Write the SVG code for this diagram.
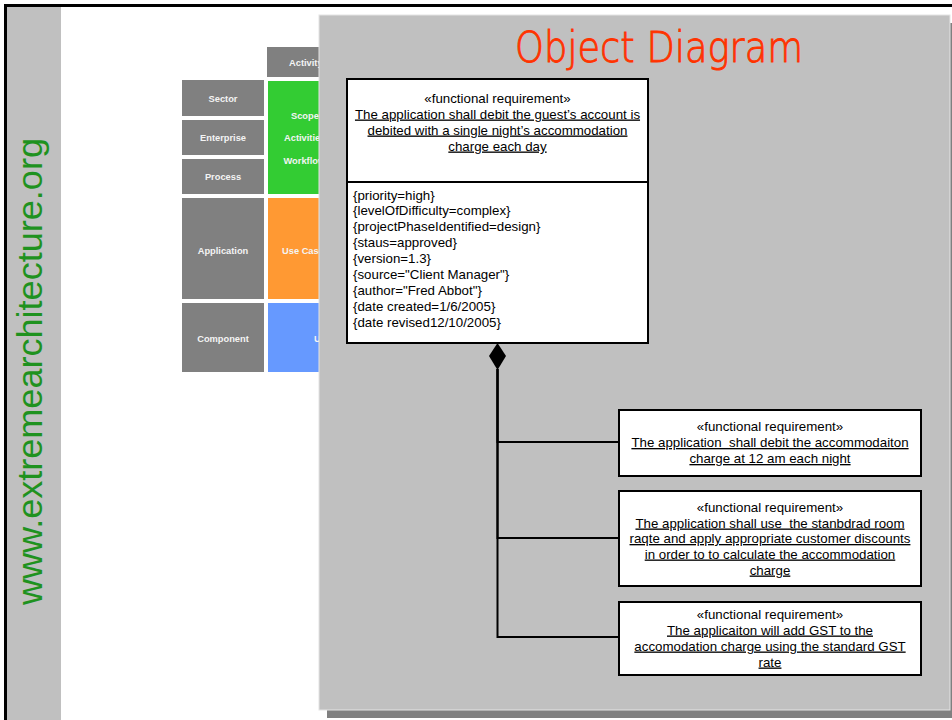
<svg xmlns="http://www.w3.org/2000/svg" width="952" height="720" viewBox="0 0 952 720">
<style>
.cell{fill:#808080}
.ct{font-family:"Liberation Sans",Arial,sans-serif;font-size:9.3px;font-weight:bold;fill:#f4f4f4}
.box{fill:#ffffff;stroke:#000000;stroke-width:2}
.t{font-family:"Liberation Sans",Arial,sans-serif;font-size:13.3px;fill:#000000;white-space:pre}
.c{text-anchor:middle}
.u{text-decoration:underline}
.conn{fill:none;stroke:#000000;stroke-width:2}
</style>
<rect x="0" y="0" width="952" height="720" fill="#ffffff"/>
<rect x="7" y="7" width="54" height="713" fill="#c0c0c0"/>
<line x1="5" y1="5.5" x2="952" y2="5.5" stroke="#000" stroke-width="3"/>
<line x1="5.5" y1="4" x2="5.5" y2="720" stroke="#000" stroke-width="3"/>
<text transform="translate(42,605) rotate(-90)" font-family="'Liberation Sans',Arial,sans-serif" font-size="35" fill="#1f921f" textLength="467" lengthAdjust="spacingAndGlyphs">www.extremearchitecture.org</text>

<g id="framework-table">
<rect class="cell" x="267" y="47" width="90" height="30"/>
<text class="ct" x="289" y="65.5">Activity</text>
<rect class="cell" x="182" y="80" width="82" height="36"/>
<text class="ct" x="223" y="102" text-anchor="middle">Sector</text>
<rect class="cell" x="182" y="120" width="82" height="35"/>
<text class="ct" x="223" y="141" text-anchor="middle">Enterprise</text>
<rect class="cell" x="182" y="159" width="82" height="35"/>
<text class="ct" x="223" y="180" text-anchor="middle">Process</text>
<rect class="cell" x="182" y="198" width="82" height="101"/>
<text class="ct" x="223" y="253.5" text-anchor="middle">Application</text>
<rect class="cell" x="182" y="303" width="82" height="69"/>
<text class="ct" x="223" y="341.5" text-anchor="middle">Component</text>
<rect x="268" y="81" width="90" height="113" fill="#33cc33"/>
<text class="ct" x="291" y="119">Scope</text>
<text class="ct" x="284" y="140.5">Activities</text>
<text class="ct" x="283.5" y="163.5">Workflow</text>
<rect x="268" y="198" width="90" height="101" fill="#ff9933"/>
<text class="ct" x="282" y="253.5">Use Case</text>
<rect x="268" y="303" width="90" height="69" fill="#6699ff"/>
<text class="ct" x="314" y="341.5">U</text>
</g>

<g id="panel">
<rect x="327" y="23" width="630" height="695" fill="#808080"/>
<rect x="319" y="15" width="631" height="695" fill="#c0c0c0" stroke="#e4e4e4" stroke-width="1"/>
<text x="659" y="62" text-anchor="middle" font-family="'DejaVu Sans','Liberation Sans',Arial,sans-serif" font-weight="200" font-size="42" fill="#ff3300" stroke="#ff3300" stroke-width="0.9" textLength="288" lengthAdjust="spacingAndGlyphs">Object Diagram</text>
</g>

<g id="connectors">
<path class="conn" d="M618,442 H497.5 V369"/>
<path class="conn" d="M618,538 H497.5 V369"/>
<path class="conn" d="M618,637 H497.5 V369"/>
<polygon points="497.5,343 506,356 497.5,370 489,356" fill="#000"/>
</g>

<g id="req-main">
<rect class="box" x="347" y="79" width="301" height="264"/>
<line x1="347" y1="182" x2="648" y2="182" stroke="#000" stroke-width="2"/>
<text class="t c" x="497.5" y="102.5">«functional requirement»</text>
<text class="t c u" x="497.5" y="118.5">The application shall debit the guest’s account is</text>
<text class="t c u" x="497.5" y="134.5">debited with a single night’s accommodation</text>
<text class="t c u" x="497.5" y="150.5">charge each day</text>
<text class="t" x="353" y="199.5">{priority=high}</text>
<text class="t" x="353" y="215.4">{levelOfDifficulty=complex}</text>
<text class="t" x="353" y="231.3">{projectPhaseIdentified=design}</text>
<text class="t" x="353" y="247.2">{staus=approved}</text>
<text class="t" x="353" y="263.1">{version=1.3}</text>
<text class="t" x="353" y="279">{source="Client Manager"}</text>
<text class="t" x="353" y="294.9">{author="Fred Abbot"}</text>
<text class="t" x="353" y="310.8">{date created=1/6/2005}</text>
<text class="t" x="353" y="326.7">{date revised12/10/2005}</text>
</g>

<g id="req-1">
<rect class="box" x="619" y="410" width="302" height="66"/>
<text class="t c" x="770" y="431">«functional requirement»</text>
<text class="t c u" x="770" y="447" xml:space="preserve">The application  shall debit the accommodaiton</text>
<text class="t c u" x="770" y="463">charge at 12 am each night</text>
</g>

<g id="req-2">
<rect class="box" x="619" y="491" width="302" height="95"/>
<text class="t c" x="770" y="511.5">«functional requirement»</text>
<text class="t c u" x="770" y="527.5" xml:space="preserve">The application shall use  the stanbdrad room</text>
<text class="t c u" x="770" y="543">raqte and apply appropriate customer discounts</text>
<text class="t c u" x="770" y="558.5">in order to to calculate the accommodation</text>
<text class="t c u" x="770" y="574.5">charge</text>
</g>

<g id="req-3">
<rect class="box" x="619" y="602" width="302" height="73"/>
<text class="t c" x="770" y="618.5">«functional requirement»</text>
<text class="t c u" x="770" y="634.5">The applicaiton will add GST to the</text>
<text class="t c u" x="770" y="650.5">accomodation charge using the standard GST</text>
<text class="t c u" x="770" y="666.5">rate</text>
</g>
</svg>
